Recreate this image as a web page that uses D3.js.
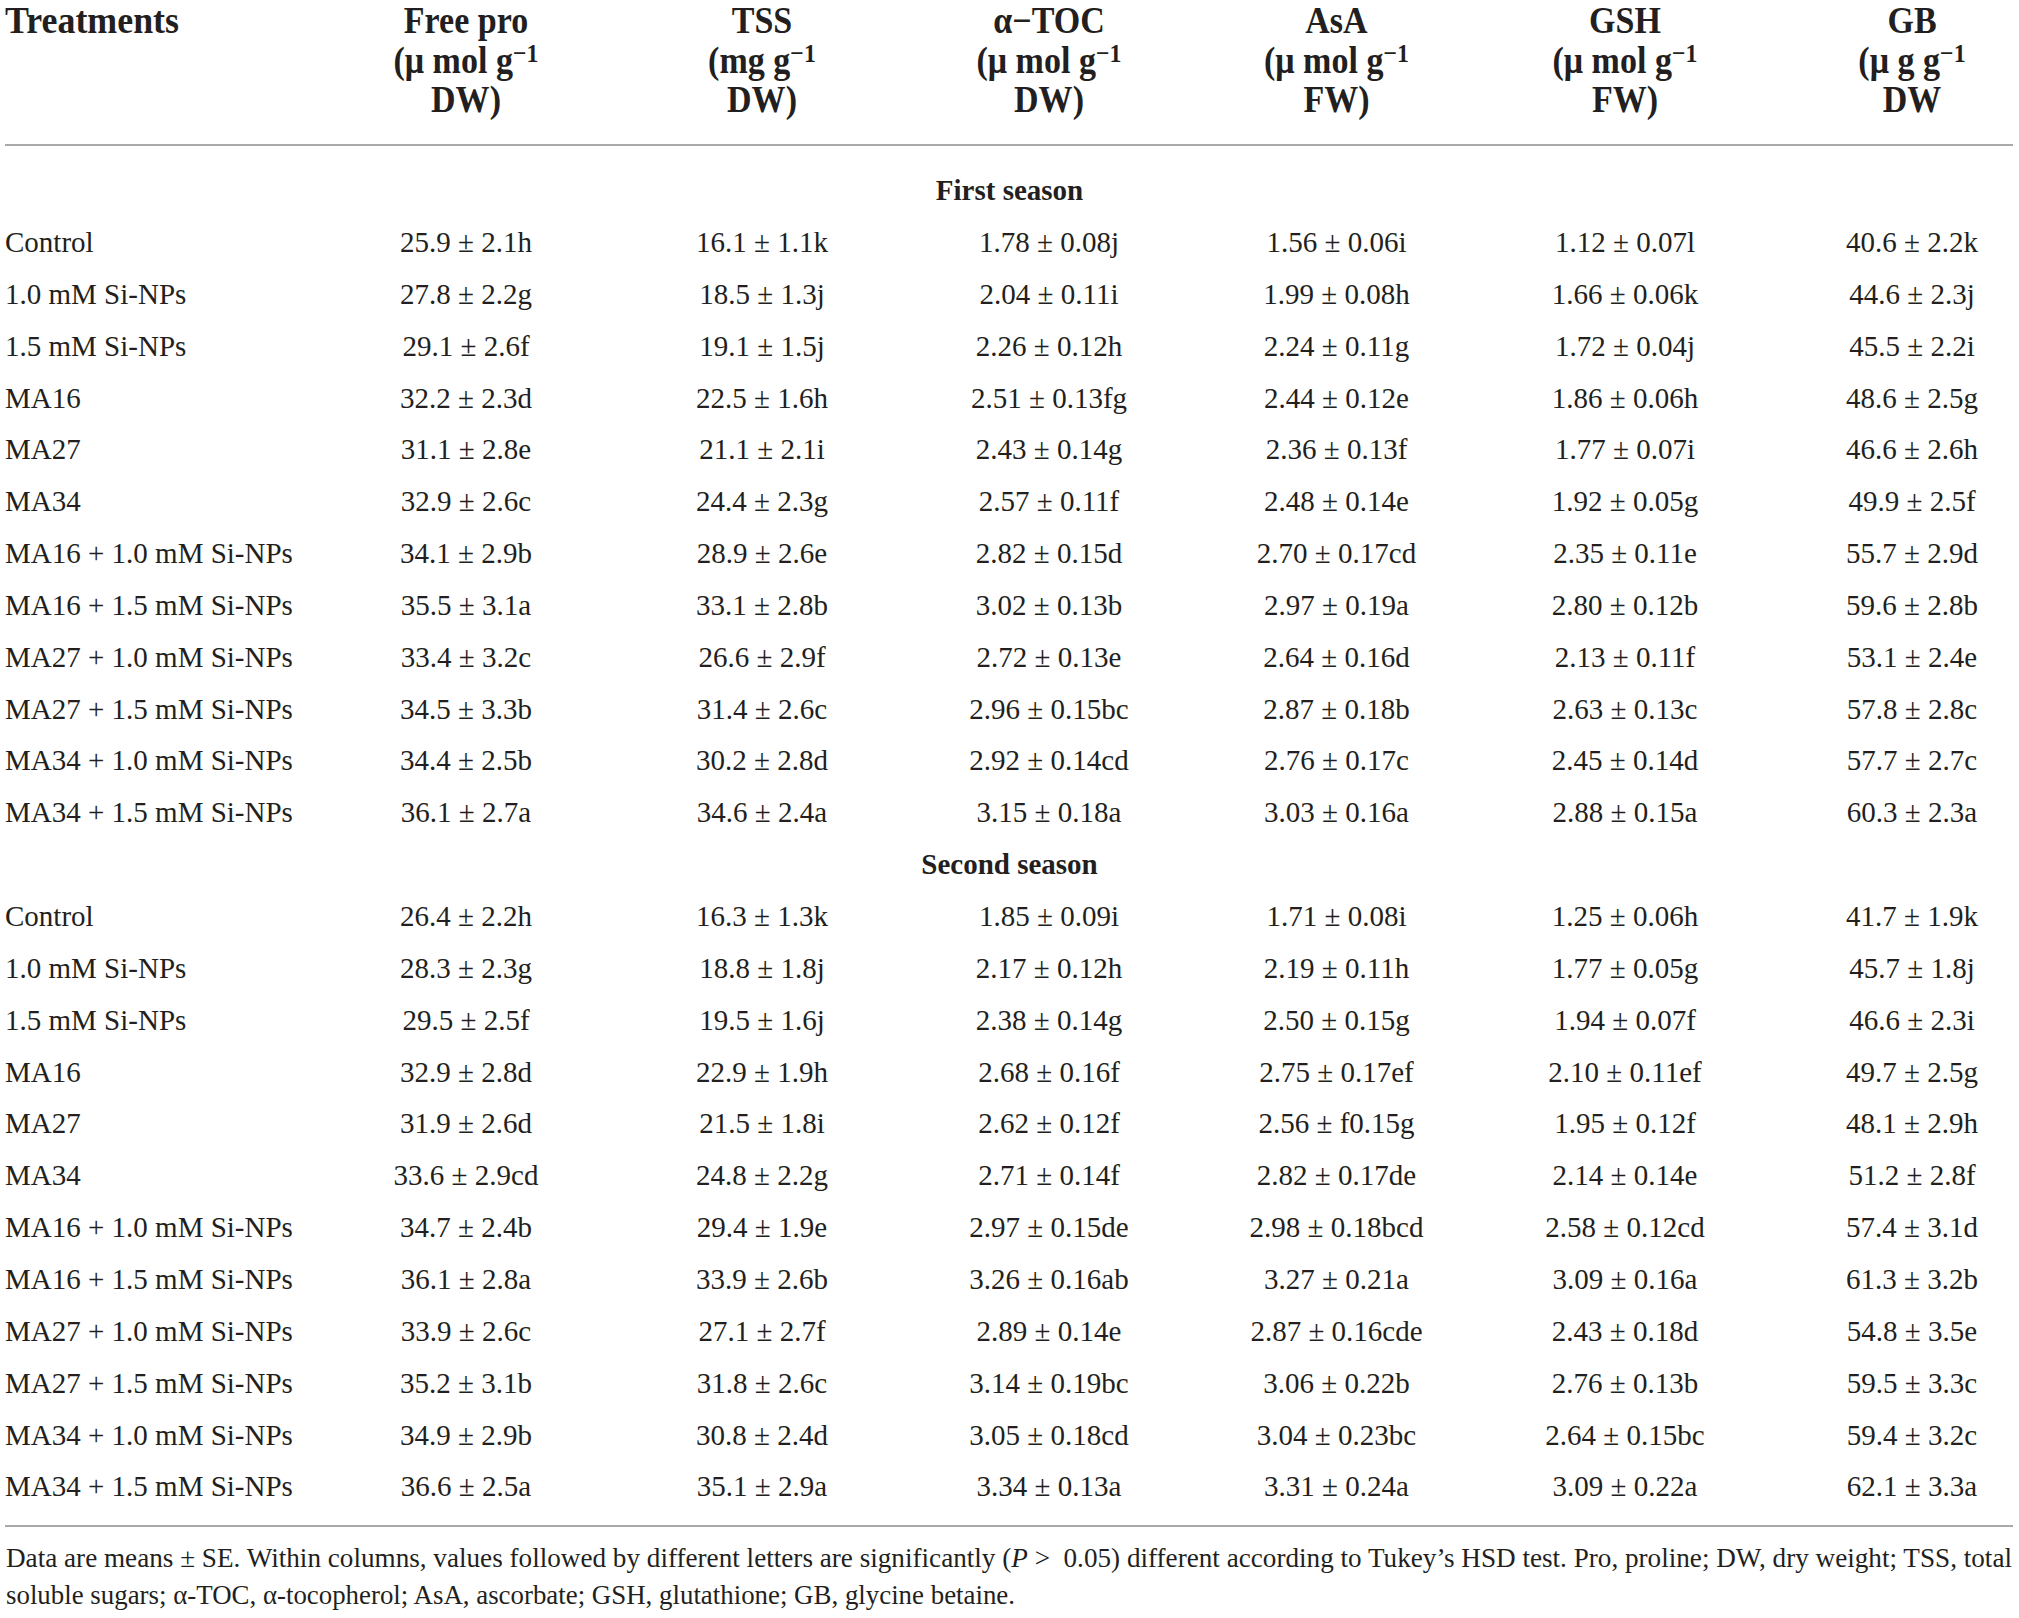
<!DOCTYPE html>
<html>
<head>
<meta charset="utf-8">
<script src="https://cdn.jsdelivr.net/npm/d3@7/dist/d3.min.js"></script>
<style>
html,body{margin:0;padding:0;background:#fff;}
svg{display:block;}
</style>
</head>
<body>
<script>
// ---------- DATA ----------
const treatments = ["Control","1.0 mM Si-NPs","1.5 mM Si-NPs","MA16","MA27","MA34",
  "MA16 + 1.0 mM Si-NPs","MA16 + 1.5 mM Si-NPs","MA27 + 1.0 mM Si-NPs",
  "MA27 + 1.5 mM Si-NPs","MA34 + 1.0 mM Si-NPs","MA34 + 1.5 mM Si-NPs"];
const seasons = ["First season","Second season"];
const columnKeys = ["freePro","tss","atoc","asa","gsh","gb"];
const headerTitles = ["Free pro","TSS","α−TOC","AsA","GSH","GB"];
const headerUnits = ["(μ mol g","(mg g","(μ mol g","(μ mol g","(μ mol g","(μ g g"];
const headerBasis = ["DW)","DW)","DW)","FW)","FW)","DW"];
const firstColumnHeader = "Treatments";

const freePro1 = ["25.9 ± 2.1h","27.8 ± 2.2g","29.1 ± 2.6f","32.2 ± 2.3d","31.1 ± 2.8e","32.9 ± 2.6c","34.1 ± 2.9b","35.5 ± 3.1a","33.4 ± 3.2c","34.5 ± 3.3b","34.4 ± 2.5b","36.1 ± 2.7a"];
const tss1     = ["16.1 ± 1.1k","18.5 ± 1.3j","19.1 ± 1.5j","22.5 ± 1.6h","21.1 ± 2.1i","24.4 ± 2.3g","28.9 ± 2.6e","33.1 ± 2.8b","26.6 ± 2.9f","31.4 ± 2.6c","30.2 ± 2.8d","34.6 ± 2.4a"];
const atoc1    = ["1.78 ± 0.08j","2.04 ± 0.11i","2.26 ± 0.12h","2.51 ± 0.13fg","2.43 ± 0.14g","2.57 ± 0.11f","2.82 ± 0.15d","3.02 ± 0.13b","2.72 ± 0.13e","2.96 ± 0.15bc","2.92 ± 0.14cd","3.15 ± 0.18a"];
const asa1     = ["1.56 ± 0.06i","1.99 ± 0.08h","2.24 ± 0.11g","2.44 ± 0.12e","2.36 ± 0.13f","2.48 ± 0.14e","2.70 ± 0.17cd","2.97 ± 0.19a","2.64 ± 0.16d","2.87 ± 0.18b","2.76 ± 0.17c","3.03 ± 0.16a"];
const gsh1     = ["1.12 ± 0.07l","1.66 ± 0.06k","1.72 ± 0.04j","1.86 ± 0.06h","1.77 ± 0.07i","1.92 ± 0.05g","2.35 ± 0.11e","2.80 ± 0.12b","2.13 ± 0.11f","2.63 ± 0.13c","2.45 ± 0.14d","2.88 ± 0.15a"];
const gb1      = ["40.6 ± 2.2k","44.6 ± 2.3j","45.5 ± 2.2i","48.6 ± 2.5g","46.6 ± 2.6h","49.9 ± 2.5f","55.7 ± 2.9d","59.6 ± 2.8b","53.1 ± 2.4e","57.8 ± 2.8c","57.7 ± 2.7c","60.3 ± 2.3a"];

const freePro2 = ["26.4 ± 2.2h","28.3 ± 2.3g","29.5 ± 2.5f","32.9 ± 2.8d","31.9 ± 2.6d","33.6 ± 2.9cd","34.7 ± 2.4b","36.1 ± 2.8a","33.9 ± 2.6c","35.2 ± 3.1b","34.9 ± 2.9b","36.6 ± 2.5a"];
const tss2     = ["16.3 ± 1.3k","18.8 ± 1.8j","19.5 ± 1.6j","22.9 ± 1.9h","21.5 ± 1.8i","24.8 ± 2.2g","29.4 ± 1.9e","33.9 ± 2.6b","27.1 ± 2.7f","31.8 ± 2.6c","30.8 ± 2.4d","35.1 ± 2.9a"];
const atoc2    = ["1.85 ± 0.09i","2.17 ± 0.12h","2.38 ± 0.14g","2.68 ± 0.16f","2.62 ± 0.12f","2.71 ± 0.14f","2.97 ± 0.15de","3.26 ± 0.16ab","2.89 ± 0.14e","3.14 ± 0.19bc","3.05 ± 0.18cd","3.34 ± 0.13a"];
const asa2     = ["1.71 ± 0.08i","2.19 ± 0.11h","2.50 ± 0.15g","2.75 ± 0.17ef","2.56 ± f0.15g","2.82 ± 0.17de","2.98 ± 0.18bcd","3.27 ± 0.21a","2.87 ± 0.16cde","3.06 ± 0.22b","3.04 ± 0.23bc","3.31 ± 0.24a"];
const gsh2     = ["1.25 ± 0.06h","1.77 ± 0.05g","1.94 ± 0.07f","2.10 ± 0.11ef","1.95 ± 0.12f","2.14 ± 0.14e","2.58 ± 0.12cd","3.09 ± 0.16a","2.43 ± 0.18d","2.76 ± 0.13b","2.64 ± 0.15bc","3.09 ± 0.22a"];
const gb2      = ["41.7 ± 1.9k","45.7 ± 1.8j","46.6 ± 2.3i","49.7 ± 2.5g","48.1 ± 2.9h","51.2 ± 2.8f","57.4 ± 3.1d","61.3 ± 3.2b","54.8 ± 3.5e","59.5 ± 3.3c","59.4 ± 3.2c","62.1 ± 3.3a"];

const seasonColumns = [
  [freePro1, tss1, atoc1, asa1, gsh1, gb1],
  [freePro2, tss2, atoc2, asa2, gsh2, gb2]
];

const footLine1 = [["Data are means ± SE. Within columns, values followed by different letters are significantly (",false],["P",true],[" >  0.05) different according to Tukey’s HSD test. Pro, proline; DW, dry weight; TSS, total",false]];
const footLine2 = "soluble sugars; α-TOC, α-tocopherol; AsA, ascorbate; GSH, glutathione; GB, glycine betaine.";

// ---------- LAYOUT ----------
const W = 2019, H = 1618;
const FONT = "'Liberation Serif','Times New Roman',serif";
const INK = "#231f20";

const svg = d3.select("body").append("svg")
  .attr("width", W).attr("height", H)
  .attr("viewBox", `0 0 ${W} ${H}`);
svg.append("rect").attr("width", W).attr("height", H).attr("fill", "#fff");

const xCol = d3.scaleOrdinal().domain(columnKeys).range([466, 762, 1049, 1336.5, 1625, 1912]);
// row grid: 0 = First season title, 1..12 rows, 13 = Second season title, 14..25 rows
const yRow = d3.scaleLinear().domain([0, 25]).range([190.6, 1486.9]);

function txt(g, x, y, s, opts = {}) {
  const t = g.append("text")
    .attr("transform", `translate(${x},${y}) scale(${opts.sx ?? 1},1)`)
    .attr("font-family", FONT)
    .attr("font-size", opts.size ?? 29)
    .attr("font-weight", opts.bold ? "bold" : "normal")
    .attr("fill", INK)
    .attr("text-anchor", opts.anchor ?? "middle");
  if (s !== null) t.text(s);
  return t;
}

// ---------- HEADER ----------
const hdr = svg.append("g");
const hSize = 37, hSx = 0.92, hBase = [33, 72.5, 112];
txt(hdr, 5, hBase[0], firstColumnHeader, {bold: true, size: hSize, anchor: "start", sx: 0.97});
columnKeys.forEach((k, i) => {
  const x = xCol(k);
  txt(hdr, x, hBase[0], headerTitles[i], {bold: true, size: hSize, sx: hSx});
  const t2 = txt(hdr, x, hBase[1], null, {bold: true, size: hSize, sx: hSx});
  t2.append("tspan").text(headerUnits[i]);
  t2.append("tspan").attr("dy", -11).attr("font-size", 26).text("−1");
  txt(hdr, x, hBase[2], headerBasis[i], {bold: true, size: hSize, sx: hSx});
});

// rules
const ruleColor = "#8c8c8c";
svg.append("line").attr("x1", 5).attr("x2", 2013).attr("y1", 145).attr("y2", 145)
  .attr("stroke", ruleColor).attr("stroke-width", 1.6);
svg.append("line").attr("x1", 5).attr("x2", 2013).attr("y1", 1526).attr("y2", 1526)
  .attr("stroke", ruleColor).attr("stroke-width", 1.6);

// ---------- BODY ----------
const body = svg.append("g");
const off = 9.5; // baseline offset from row centre
seasons.forEach((s, si) => {
  const base = si * 13;
  txt(body, W / 2, yRow(base) + off, s, {bold: true, size: 29});
  treatments.forEach((tr, ri) => {
    const y = yRow(base + 1 + ri) + off;
    txt(body, 5, y, tr, {anchor: "start"});
    columnKeys.forEach((k, ci) => {
      txt(body, xCol(k), y, seasonColumns[si][ci][ri]);
    });
  });
});

// ---------- FOOTNOTE ----------
const foot = svg.append("g");
const fSize = 26.5;
const f1 = foot.append("text").attr("x", 6).attr("y", 1567)
  .attr("font-family", FONT).attr("font-size", fSize).attr("fill", INK)
  .attr("xml:space", "preserve").style("white-space", "pre");
footLine1.forEach(([s, it]) => f1.append("tspan").attr("font-style", it ? "italic" : "normal").text(s));
const f2 = foot.append("text").attr("x", 6).attr("y", 1604)
  .attr("font-family", FONT).attr("font-size", fSize).attr("fill", INK)
  .text(footLine2);
f1.attr("textLength", 2006).attr("lengthAdjust", "spacingAndGlyphs");
f2.attr("textLength", 1009).attr("lengthAdjust", "spacingAndGlyphs");
</script>
</body>
</html>
